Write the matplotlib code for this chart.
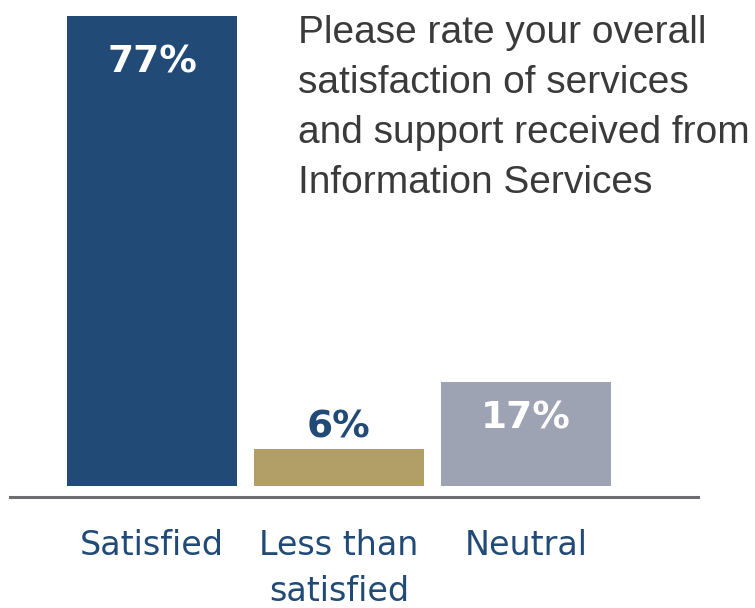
import matplotlib.pyplot as plt
from matplotlib import font_manager

categories = ['Satisfied', 'Less than\nsatisfied', 'Neutral']
percentages = [77, 6, 17]
bar_colors = ['#214a77', '#b29f68', '#9ea3b3']
label_colors = ['white', '#214a77', 'white']
question = ('Please rate your overall\nsatisfaction of services\n'
            'and support received from\nInformation Services')

names = {f.name for f in font_manager.fontManager.ttflist}
narrow = 'Liberation Sans Narrow' if 'Liberation Sans Narrow' in names else 'Liberation Sans'

fig = plt.figure(figsize=(7.55, 6.08), dpi=100)
ax = fig.add_axes([0, 0, 1, 1])
ax.set_xlim(-0.813, 3.225)
ax.set_ylim(-20, 79.7)
ax.axis('off')

x = range(len(categories))
bars = ax.bar(x, percentages, width=0.91, color=bar_colors)

# value labels: inside the tall bars, above the short one
offsets = [-46, 22, -36]
for bar, val, col, off in zip(bars, percentages, label_colors, offsets):
    ax.annotate(f'{val}%', (bar.get_x() + bar.get_width() / 2, bar.get_height()),
                xytext=(0, off * 0.72), textcoords='offset points',
                ha='center', va='center',
                color=col, fontsize=27, fontweight='semibold', family='DejaVu Sans')

ax.axhline(-1.8, xmin=10 / 755, xmax=698 / 755, color='#6d6d72', lw=2.2)

for i, name in enumerate(categories):
    ax.text(i, -7.1, name, ha='center', va='top', color='#214a77',
            fontsize=24, family='DejaVu Sans', linespacing=1.5)

fig.text(298 / 755, 1 - 15 / 608, question, ha='left', va='top',
         color='#3a3a3a', fontsize=28, family=narrow, linespacing=1.5)

fig.savefig('out.png', dpi=100)
